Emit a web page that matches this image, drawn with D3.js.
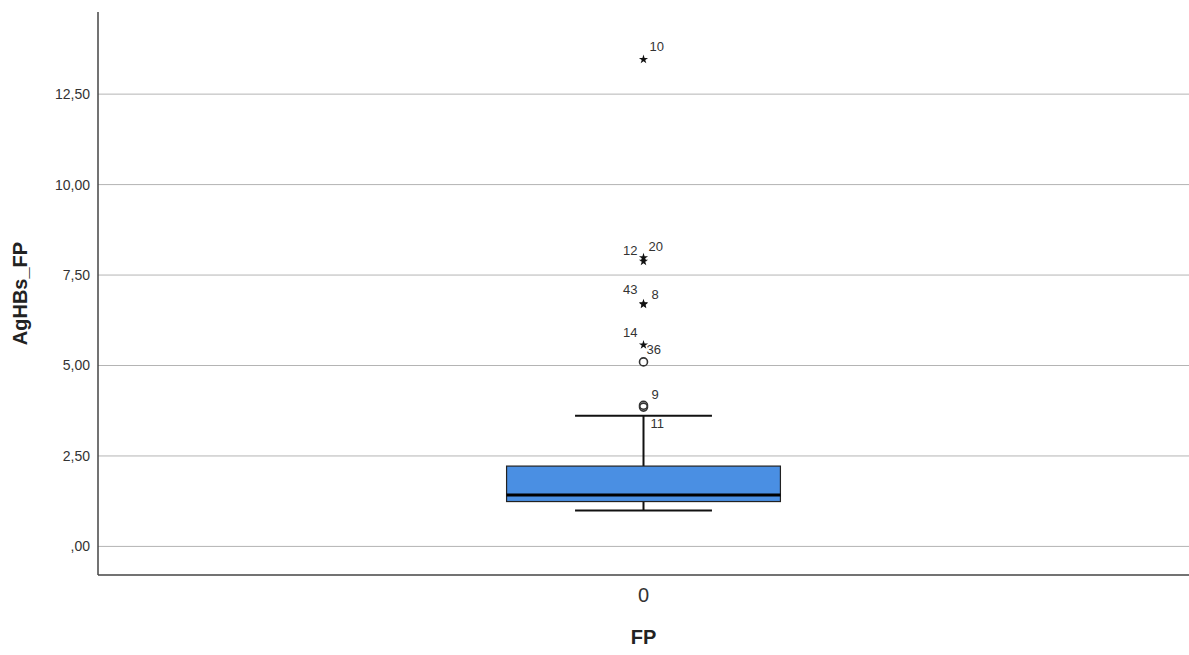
<!DOCTYPE html>
<meta charset="utf-8">
<title>AgHBs_FP by FP</title>
<style>
body{
  margin:0;
  background:#fff;
  font-family: 'Liberation Sans', Arial, sans-serif;
}
svg{ display:block; }
.grid line{ stroke:#b4b4b4; stroke-width:1; }
.axis--y text{ font-size:14px; fill:#333; }
.axis--x text{ font-size:20px; fill:#333; }
.axis path, .axis line{ display:none; }
.title{ font-size:20px; font-weight:bold; fill:#222; text-anchor:middle; }
.olabel{ font-size:13px; fill:#333; }
</style>
<svg width="1189" height="655"></svg>
<script src="https://d3js.org/d3.v7.min.js"></script>
<script>

// data
var categories = ["0"];
var boxValues = [0.99, 1.24, 1.42, 2.22, 3.61]; // lower whisker, q1, median, q3, upper whisker
var outlierValues = [13.46, 7.98, 7.88, 6.71, 6.69, 5.57, 5.10, 3.90, 3.85];
var outlierIds    = ["10", "20", "12", "8", "43", "14", "36", "9", "11"];
var outlierKinds  = ["extreme", "extreme", "extreme", "extreme", "extreme", "extreme", "mild", "mild", "mild"];
var yTicks = [0, 2.5, 5, 7.5, 10, 12.5];

var svg = d3.select("svg"),
    plotL = 98, plotR = 1189, plotT = 12, plotB = 575;

var y = d3.scaleLinear().domain([-0.79, 14.77]).range([plotB, plotT]);
var x = d3.scaleBand().domain(categories).range([plotL, plotR]);

// grid
svg.append("g").attr("class", "grid")
  .selectAll("line").data(yTicks).enter().append("line")
    .attr("x1", plotL).attr("x2", plotR)
    .attr("y1", function(d){ return y(d); })
    .attr("y2", function(d){ return y(d); });

var fmt = function(d){
  var s = d3.format(".2f")(d).replace(".", ",");
  return s.indexOf("0,") === 0 ? s.substring(1) : s;
};

svg.append("g")
  .attr("class", "axis axis--y")
  .attr("transform", "translate(" + plotL + ",0)")
  .call(d3.axisLeft(y).tickValues(yTicks).tickFormat(fmt).tickSize(0).tickPadding(8));

svg.append("g")
  .attr("class", "axis axis--x")
  .attr("transform", "translate(0," + plotB + ")")
  .call(d3.axisBottom(x).tickSize(0).tickPadding(13));

// frame lines
svg.append("line").attr("x1", plotL).attr("x2", plotL).attr("y1", plotT).attr("y2", plotB)
  .attr("stroke", "#444").attr("stroke-width", 1.5);
svg.append("line").attr("x1", plotL).attr("x2", plotR).attr("y1", plotB).attr("y2", plotB)
  .attr("stroke", "#444").attr("stroke-width", 1.5);

// box
var cx = x("0") + x.bandwidth() / 2,
    boxW = x.bandwidth() * 0.251,
    capW = boxW / 2;
var g = svg.append("g");

g.append("line").attr("x1", cx).attr("x2", cx)
  .attr("y1", y(boxValues[3])).attr("y2", y(boxValues[4]))
  .attr("stroke", "#111").attr("stroke-width", 2);
g.append("line").attr("x1", cx).attr("x2", cx)
  .attr("y1", y(boxValues[1])).attr("y2", y(boxValues[0]))
  .attr("stroke", "#111").attr("stroke-width", 2);
[boxValues[0], boxValues[4]].forEach(function(v){
  g.append("line").attr("x1", cx - capW/2).attr("x2", cx + capW/2)
    .attr("y1", y(v)).attr("y2", y(v))
    .attr("stroke", "#111").attr("stroke-width", 2);
});
g.append("rect")
  .attr("x", cx - boxW/2).attr("width", boxW)
  .attr("y", y(boxValues[3])).attr("height", y(boxValues[1]) - y(boxValues[3]))
  .attr("fill", "#4a8fe3").attr("stroke", "#222").attr("stroke-width", 1.2);
g.append("line").attr("x1", cx - boxW/2).attr("x2", cx + boxW/2)
  .attr("y1", y(boxValues[2])).attr("y2", y(boxValues[2]))
  .attr("stroke", "#000").attr("stroke-width", 3);

// outliers
var outliers = outlierValues.map(function(v, i){
  return {value: v, id: outlierIds[i], kind: outlierKinds[i]};
});
var star = d3.symbol().type(d3.symbolStar).size(26);

g.selectAll(".star").data(outliers.filter(function(d){ return d.kind == "extreme"; }))
  .enter().append("path")
    .attr("class", "star")
    .attr("d", star)
    .attr("transform", function(d){ return "translate(" + cx + "," + y(d.value) + ")"; })
    .attr("fill", "#111");

g.selectAll(".mild").data(outliers.filter(function(d){ return d.kind == "mild"; }))
  .enter().append("circle")
    .attr("class", "mild")
    .attr("cx", cx).attr("cy", function(d){ return y(d.value); })
    .attr("r", 4)
    .attr("fill", "none").attr("stroke", "#333").attr("stroke-width", 1.6);

// label placement (dx, dy from the point, anchor)
var place = {
  "10": [6, -13, "start"], "20": [5, -11, "start"], "12": [-6, -11, "end"],
  "8": [8, -9, "start"], "43": [-6, -15, "end"], "14": [-6, -12, "end"],
  "36": [3, -12, "start"], "9": [8, -11, "start"], "11": [7, 16, "start"]
};
g.selectAll(".olabel").data(outliers).enter().append("text")
  .attr("class", "olabel")
  .attr("x", function(d){ return cx + place[d.id][0]; })
  .attr("y", function(d){ return y(d.value) + place[d.id][1]; })
  .attr("dy", "0.35em")
  .attr("text-anchor", function(d){ return place[d.id][2]; })
  .text(function(d){ return d.id; });

// titles
svg.append("text").attr("class", "title")
  .attr("transform", "translate(27," + (plotT + plotB) / 2 + ") rotate(-90)")
  .text("AgHBs_FP");
svg.append("text").attr("class", "title")
  .attr("x", cx).attr("y", 644)
  .text("FP");
</script>
